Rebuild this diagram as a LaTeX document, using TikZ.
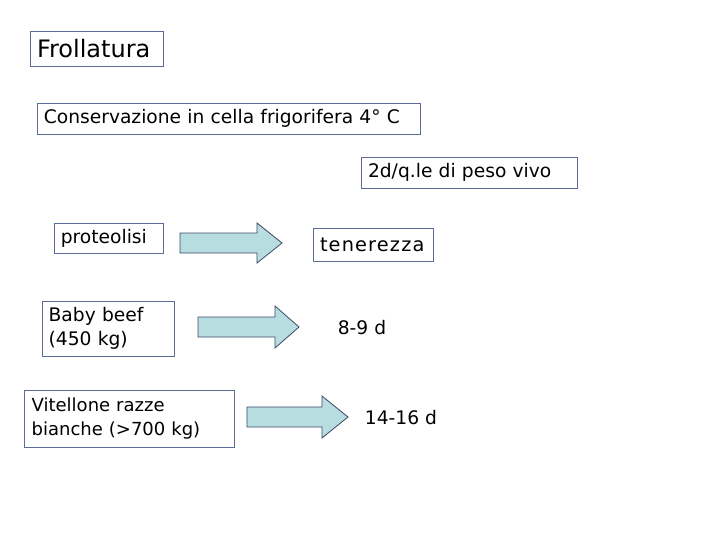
\documentclass[tikz,border=0pt]{standalone}
\usepackage{fontspec}
\setmainfont{DejaVu Sans}
\definecolor{boxline}{RGB}{92,108,150}
\definecolor{arrowfill}{RGB}{183,221,225}
\definecolor{arrowline}{RGB}{60,72,100}
\begin{document}
\begin{tikzpicture}[x=0.75pt,y=-0.75pt,
  labelbox/.style={draw=boxline,line width=0.75pt,inner xsep=5pt,inner ysep=0pt,align=left,
    font=\fontsize{14}{18}\selectfont,text=black},
  plain/.style={font=\fontsize{14}{18}\selectfont,text=black},
  blockarrow/.style={draw=arrowline,fill=arrowfill,line width=0.6pt,line join=miter}]
\useasboundingbox (0,0) rectangle (720,540);
\node[labelbox,font=\fontsize{18}{20}\selectfont,minimum width=99.75pt,minimum height=26.25pt,text width=89.25pt] (froll) at (96.5,48.5) {Frollatura};
\node[labelbox,minimum width=287.25pt,minimum height=23.25pt,text width=277pt] (cons) at (228.5,118.5) {Conservazione in cella frigorifera 4° C};
\node[labelbox,minimum width=162pt,minimum height=23.25pt,text width=151.5pt] (peso) at (469,172.5) {2d/q.le di peso vivo};
\node[labelbox,minimum width=81.75pt,minimum height=22.5pt,text width=71.5pt] (prot) at (108.5,238) {proteolisi};
\node[labelbox,font=\fontsize{14.5}{18}\selectfont\addfontfeatures{LetterSpace=6},minimum width=90pt,minimum height=24.75pt,text width=79.5pt] (ten) at (373,244.5) {tenerezza};
\node[labelbox,minimum width=99pt,minimum height=41.25pt,text width=89pt] (baby) at (108,328.5) {Baby beef\\(450 kg)};
\node[labelbox,font=\fontsize{13.5}{18.5}\selectfont,minimum width=157.5pt,minimum height=42.75pt,text width=146pt] (vit) at (129,418.5) {Vitellone razze\\bianche (>700 kg)};
\node[plain] (d89) at (362,328) {8-9 d};
\node[plain] (d1416) at (401,418) {14-16 d};
% block arrows
\draw[blockarrow] (180,233) -- (257,233) -- (257,223) -- (282,243) -- (257,263) -- (257,253) -- (180,253) -- cycle;
\draw[blockarrow] (198,317) -- (275,317) -- (275,306) -- (299,327) -- (275,348) -- (275,337) -- (198,337) -- cycle;
\draw[blockarrow] (247,407) -- (322,407) -- (322,396) -- (348,417) -- (322,438) -- (322,427) -- (247,427) -- cycle;
\end{tikzpicture}
\end{document}
